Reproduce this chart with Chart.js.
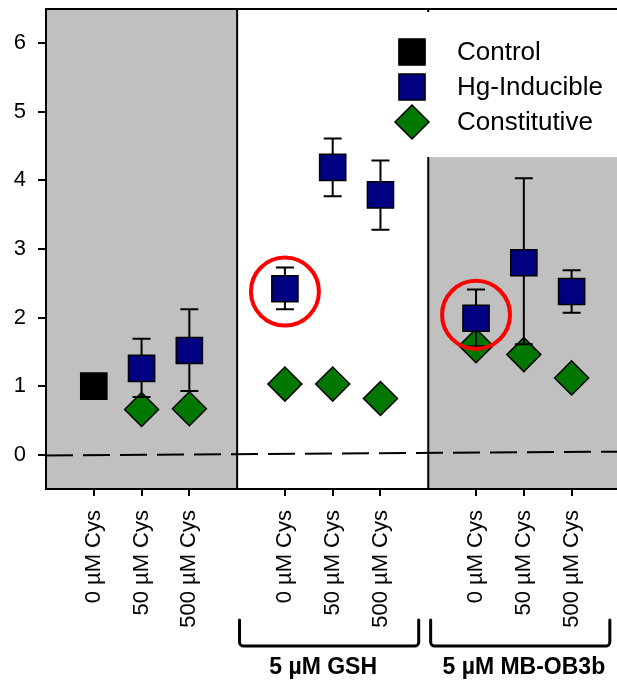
<!DOCTYPE html>
<html>
<head>
<meta charset="utf-8">
<script src="https://cdn.jsdelivr.net/npm/chart.js@4.4.0/dist/chart.umd.min.js"></script>
<style>
  html, body { margin: 0; padding: 0; background: #fff; }
  canvas { display: block; }
</style>
</head>
<body>
<canvas id="cysChart" width="617" height="681"></canvas>
<script>
// treatment positions on the x axis (one empty slot between groups)
const positions = [1, 2, 3, 5, 6, 7, 9, 10, 11];
const cysLabels = ["0 µM Cys", "50 µM Cys", "500 µM Cys",
                   "0 µM Cys", "50 µM Cys", "500 µM Cys",
                   "0 µM Cys", "50 µM Cys", "500 µM Cys"];
const yTicks = [0, 1, 2, 3, 4, 5, 6];

// Control
const controlPos = [1];
const controlVal = [1.0];

// Hg-Inducible (mean + error bar ends)
const hgPos  = [2, 3, 5, 6, 7, 9, 10, 11];
const hgVal  = [1.26, 1.52, 2.42, 4.19, 3.79, 1.99, 2.80, 2.38];
const hgLow  = [0.84, 0.93, 2.12, 3.77, 3.28, 1.58, 1.61, 2.07];
const hgHigh = [1.69, 2.12, 2.73, 4.61, 4.29, 2.41, 4.03, 2.69];

// Constitutive
const constPos = [2, 3, 5, 6, 7, 9, 10, 11];
const constVal = [0.66, 0.67, 1.03, 1.03, 0.82, 1.59, 1.46, 1.12];

// highlighted points (red circles)
const circledPos = [5, 9];
const circledVal = [2.38, 2.04];

// dashed baseline (slightly tilted in the original)
const zeroLineX = [0, 12];
const zeroLineY = [-0.01, 0.045];

// shaded x ranges and bracket groups
const shadedSpans = [[0, 4], [8, 12]];
const groupNames = ["5 µM GSH", "5 µM MB-OB3b"];
const groupSpans = [[4.05, 7.8], [8.05, 11.8]];
const groupCenters = [5.8, 10];

const legendItems = [
  { text: "Control", style: "rect", color: "#000000" },
  { text: "Hg-Inducible", style: "rect", color: "#000080" },
  { text: "Constitutive", style: "rectRot", color: "#007800" }
];

const FONT = "'Liberation Sans', Arial, sans-serif";

function xy(xs, ys) {
  return xs.map((v, i) => ({ x: v, y: ys[i] }));
}

function noPad(s) {
  s.paddingLeft = 0; s.paddingRight = 0;
  s.paddingTop = 0; s.paddingBottom = 0;
}

const extras = {
  id: 'extras',
  beforeDraw(chart) {
    const { ctx, chartArea: a, scales: { x, y } } = chart;
    ctx.save();
    ctx.fillStyle = '#c0c0c0';
    shadedSpans.forEach(([s, e]) => {
      const x0 = x.getPixelForValue(s);
      const x1 = Math.min(x.getPixelForValue(e), chart.width);
      ctx.fillRect(x0, a.top, x1 - x0, a.bottom - a.top);
    });
    // white legend panel over the top of the right shading
    ctx.fillStyle = '#ffffff';
    const ly = y.getPixelForValue(4.34);
    ctx.fillRect(x.getPixelForValue(8) - 1, a.top, chart.width, ly - a.top);
    ctx.restore();
  },
  beforeDatasetsDraw(chart) {
    const { ctx, chartArea: a, scales: { x, y } } = chart;
    ctx.save();
    ctx.strokeStyle = '#000';
    ctx.lineWidth = 2;
    ctx.beginPath();
    // top frame
    ctx.moveTo(a.left, a.top);
    ctx.lineTo(chart.width, a.top);
    // group separators
    const s1 = x.getPixelForValue(4), s2 = x.getPixelForValue(8);
    ctx.moveTo(s1, a.top);
    ctx.lineTo(s1, a.bottom);
    ctx.moveTo(s2, y.getPixelForValue(4.34));
    ctx.lineTo(s2, a.bottom);
    ctx.moveTo(s2, a.top);
    ctx.lineTo(s2, a.top + 3);
    ctx.stroke();
    ctx.restore();
  },
  afterDatasetDraw(chart, args) {
    // error bars go above the diamonds but under the squares
    if (args.index !== 2) return;
    const { ctx, scales: { x, y } } = chart;
    ctx.save();
    ctx.strokeStyle = '#000';
    ctx.lineWidth = 2;
    ctx.beginPath();
    hgPos.forEach((p, i) => {
      const px = x.getPixelForValue(p);
      const lo = y.getPixelForValue(hgLow[i]);
      const hi = y.getPixelForValue(hgHigh[i]);
      ctx.moveTo(px, lo); ctx.lineTo(px, hi);
      ctx.moveTo(px - 9, lo); ctx.lineTo(px + 9, lo);
      ctx.moveTo(px - 9, hi); ctx.lineTo(px + 9, hi);
    });
    ctx.stroke();
    ctx.restore();
  },
  afterDraw(chart) {
    const { ctx, scales: { x } } = chart;
    ctx.save();
    // legend
    legendItems.forEach((item, i) => {
      const cy = 52 + i * 35;
      const opts = {
        pointStyle: item.style,
        radius: item.style === 'rect' ? 18.5 : 17,
        rotation: 0,
        borderWidth: 1.5
      };
      ctx.fillStyle = item.color;
      ctx.strokeStyle = '#000';
      ctx.lineWidth = 1.5;
      Chart.helpers.drawPoint(ctx, opts, 412, cy);
      ctx.fillStyle = '#000';
      ctx.font = '26px ' + FONT;
      ctx.textAlign = 'left';
      ctx.textBaseline = 'middle';
      ctx.fillText(item.text, 457, cy + 1);
    });
    // brackets and group names
    ctx.lineWidth = 3;
    ctx.lineCap = 'round';
    ctx.lineJoin = 'round';
    groupSpans.forEach(([s, e], i) => {
      const x0 = x.getPixelForValue(s), x1 = x.getPixelForValue(e);
      const top = 620, bot = 646, r = 4;
      ctx.beginPath();
      ctx.moveTo(x0, top);
      ctx.arcTo(x0, bot, x0 + r, bot, r);
      ctx.arcTo(x1, bot, x1, bot - r, r);
      ctx.lineTo(x1, top);
      ctx.stroke();
      ctx.font = 'bold 23px ' + FONT;
      ctx.textAlign = 'center';
      ctx.textBaseline = 'middle';
      ctx.fillText(groupNames[i], x.getPixelForValue(groupCenters[i]), 668);
    });
    ctx.restore();
  }
};

new Chart(document.getElementById('cysChart'), {
  type: 'scatter',
  data: {
    datasets: [
      {
        label: 'circled',
        data: xy(circledPos, circledVal),
        pointStyle: 'circle',
        pointRadius: 34,
        pointBackgroundColor: 'rgba(0,0,0,0)',
        pointBorderColor: '#ff0000',
        pointBorderWidth: 4,
        order: 0
      },
      {
        label: 'Hg-Inducible',
        data: xy(hgPos, hgVal),
        pointStyle: 'rect',
        pointRadius: 18.5,
        pointBackgroundColor: '#000080',
        pointBorderColor: '#000',
        pointBorderWidth: 1.5,
        order: 1
      },
      {
        label: 'Constitutive',
        data: xy(constPos, constVal),
        pointStyle: 'rectRot',
        pointRadius: 17,
        pointBackgroundColor: '#007800',
        pointBorderColor: '#000',
        pointBorderWidth: 1.5,
        order: 3
      },
      {
        label: 'Control',
        data: xy(controlPos, controlVal),
        pointStyle: 'rect',
        pointRadius: 18.5,
        pointBackgroundColor: '#000000',
        pointBorderColor: '#000',
        pointBorderWidth: 1.5,
        order: 2
      },
      {
        label: 'zero',
        data: xy(zeroLineX, zeroLineY),
        showLine: true,
        borderColor: '#000',
        borderWidth: 2,
        borderDash: [27, 10],
        pointRadius: 0,
        order: 4
      }
    ]
  },
  options: {
    responsive: false,
    animation: false,
    events: [],
    layout: { autoPadding: false, padding: { top: 9, right: 0, left: 0, bottom: 0 } },
    plugins: { legend: { display: false }, tooltip: { enabled: false } },
    scales: {
      x: {
        type: 'linear',
        min: 0,
        max: 11.95,
        afterBuildTicks: s => { s.ticks = positions.map(v => ({ value: v })); },
        afterFit: s => { s.height = 192; noPad(s); },
        border: { color: '#000', width: 2 },
        grid: { drawOnChartArea: false, drawTicks: true, tickLength: 7, color: '#000', lineWidth: 2 },
        ticks: {
          autoSkip: false,
          minRotation: 90,
          maxRotation: 90,
          padding: 14,
          color: '#000',
          font: { family: FONT, size: 22 },
          callback: v => cysLabels[positions.indexOf(v)]
        }
      },
      y: {
        min: -0.5,
        max: 6.5,
        afterBuildTicks: s => { s.ticks = yTicks.map(v => ({ value: v })); },
        afterFit: s => { s.width = 46; noPad(s); },
        border: { color: '#000', width: 2 },
        grid: { drawOnChartArea: false, drawTicks: true, tickLength: 8, color: '#000', lineWidth: 2 },
        ticks: {
          padding: 12,
          color: '#000',
          font: { family: FONT, size: 22 }
        }
      }
    }
  },
  plugins: [extras]
});
</script>
</body>
</html>
